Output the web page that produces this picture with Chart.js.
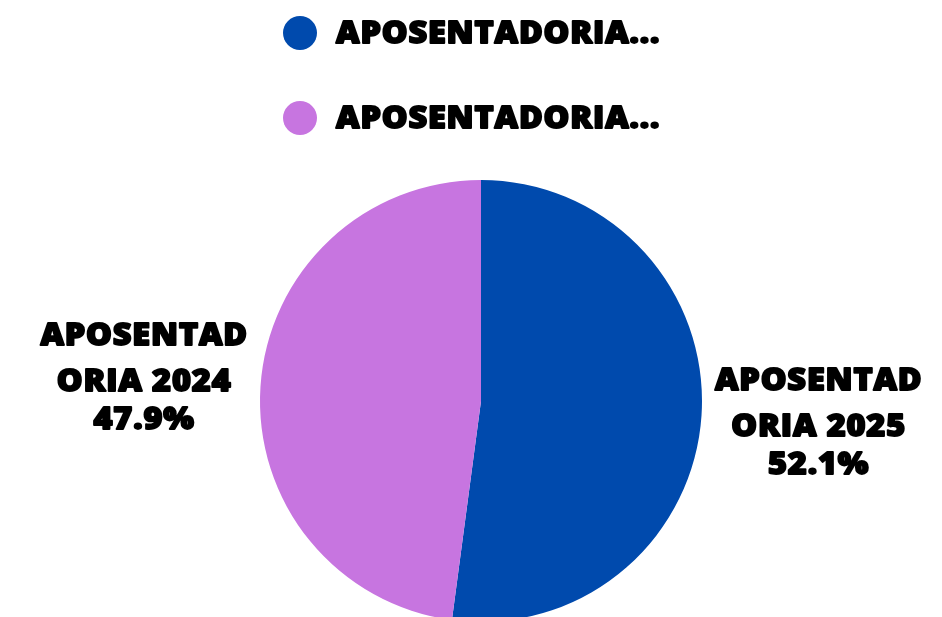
<!DOCTYPE html>
<html>
<head>
<meta charset="utf-8">
<script src="https://cdn.jsdelivr.net/npm/chart.js@4.4.1/dist/chart.umd.min.js"></script>
<style>
html,body{margin:0;padding:0;background:#fff;overflow:hidden;}
#wrap{width:942px;height:640px;position:relative;}
</style>
</head>
<body>
<div id="wrap"><canvas id="c" width="942" height="640"></canvas></div>
<script>
const categories = ["APOSENTADORIA 2025", "APOSENTADORIA 2024"];
const legendLabels = ["APOSENTADORIA...", "APOSENTADORIA..."];
const values = [52.1, 47.9];
const colors = ["#004AAD", "#C775E0"];

const FONT = "'Open Sans', 'Noto Sans', sans-serif";
const SX = 1.08;

function heavyText(ctx, t, x, y, spacing, align) {
  ctx.save();
  ctx.translate(x, y);
  ctx.scale(SX, 1);
  ctx.letterSpacing = spacing + 'px';
  ctx.textAlign = align;
  ctx.textBaseline = 'middle';
  ctx.lineJoin = 'round';
  ctx.lineWidth = 1.8;
  ctx.strokeStyle = '#000';
  ctx.fillStyle = '#000';
  const xx = align === 'center' ? spacing / 2 : 0;
  ctx.strokeText(t, xx, 0);
  ctx.fillText(t, xx, 0);
  ctx.restore();
}

const legendPlugin = {
  id: 'customLegend',
  afterDraw(chart) {
    const ctx = chart.ctx;
    ctx.save();
    const ys = [33, 118];
    ctx.font = "800 30px " + FONT;
    legendLabels.forEach((t, i) => {
      ctx.beginPath();
      ctx.fillStyle = colors[i];
      ctx.arc(300, ys[i], 17, 0, Math.PI * 2);
      ctx.fill();
      heavyText(ctx, t, 336, ys[i] + 1, 0.8, 'left');
    });
    ctx.restore();
  }
};

const outLabels = {
  id: 'outLabels',
  afterDatasetsDraw(chart) {
    const ctx = chart.ctx;
    const meta = chart.getDatasetMeta(0);
    ctx.save();
    ctx.font = "800 30px " + FONT;
    meta.data.forEach((arc, i) => {
      const p = arc.getProps(['x', 'y', 'startAngle', 'endAngle', 'outerRadius'], true);
      const a = (p.startAngle + p.endAngle) / 2;
      const d = p.outerRadius + 117;
      const x = p.x + Math.cos(a) * d;
      const y = p.y + Math.sin(a) * d + 4;
      const name = categories[i];
      const l1 = name.slice(0, 9);
      const l2 = name.slice(9);
      const l3 = values[i].toFixed(1) + '%';
      heavyText(ctx, l1, x, y - 46, 0.8, 'center');
      heavyText(ctx, l2, x, y, 0.8, 'center');
      heavyText(ctx, l3, x, y + 38, 0.8, 'center');
    });
    ctx.restore();
  }
};

new Chart(document.getElementById('c'), {
  type: 'pie',
  data: {
    labels: categories,
    datasets: [{
      data: values,
      backgroundColor: colors,
      borderWidth: 0
    }]
  },
  options: {
    responsive: false,
    animation: false,
    layout: { padding: { top: 180, bottom: 18, left: 20, right: 0 } },
    plugins: {
      legend: { display: false },
      tooltip: { enabled: false }
    }
  },
  plugins: [legendPlugin, outLabels]
});
</script>
</body>
</html>
